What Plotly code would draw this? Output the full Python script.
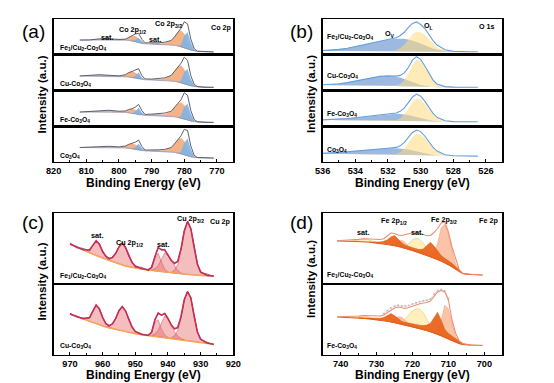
import plotly.graph_objects as go

W, H = 554, 383
FONT = "Liberation Sans, Arial, sans-serif"

# ---------------- (a) Co 2p ----------------
Ea = [812, 809, 806, 803, 800, 798, 797, 796, 795, 794, 793, 792, 790, 788, 786, 784, 783, 782, 781, 780, 779, 778, 777, 776, 774, 771]
a1_base = [14.7, 14.8, 14.9, 14.9, 14.8, 14.6, 14.3, 13.8, 13.0, 12.0, 11.2, 10.8, 10.6, 10.4, 10.2, 9.8, 9.4, 8.8, 8.0, 7.0, 5.8, 4.6, 3.8, 3.3, 3.0, 2.8]
a1_orange = [0, 0, 0, 0, 0, 1.0, 3.0, 5.3, 5.8, 4.5, 2.3, 0.8, 0, 0.3, 1.5, 4.5, 8.5, 14.0, 16.5, 14.0, 8.0, 3.0, 1.0, 0.3, 0, 0]
a1_blue = [0, 0, 0, 0, 0, 0, 0, 0, 2.0, 5.0, 2.0, 0.3, 0, 0, 0, 0, 0, 0, 2.0, 12.0, 17.0, 8.0, 1.5, 0, 0, 0]
a1_purple = [0, 0, 1.0, 1.2, 0.5, 0, 0, 0, 0, 0, 0, 0, 1.0, 1.3, 0.8, 0, 0, 0, 0, 0, 0, 0, 0, 0, 0, 0]
a1_env = [14.7, 14.8, 15.9, 16.1, 15.3, 15.6, 17.3, 19.1, 20.8, 21.5, 15.5, 11.9, 11.6, 12.0, 12.5, 14.3, 17.9, 22.8, 26.5, 33.0, 30.8, 15.6, 6.3, 3.6, 3.0, 2.8]

a2_base = [14.5, 14.4, 14.3, 14.2, 14.0, 13.8, 13.5, 13.0, 12.3, 11.6, 11.0, 10.7, 10.4, 10.2, 10.0, 9.6, 9.2, 8.6, 7.8, 6.8, 5.6, 4.6, 4.0, 3.6, 3.3, 3.2]
a2_orange = [0, 0, 0, 0, 0.3, 2.0, 4.5, 6.0, 5.5, 3.8, 1.8, 0.6, 0.2, 0.5, 2.0, 5.5, 10.0, 15.5, 17.5, 14.5, 8.5, 3.2, 1.0, 0.3, 0, 0]
a2_blue = [0, 0, 0, 0, 0, 0, 0, 0, 2.5, 6.5, 2.0, 0.3, 0, 0, 0, 0, 0, 0, 2.0, 12.0, 16.0, 7.0, 1.2, 0, 0, 0]
a2_purple = [0, 0.5, 1.5, 1.0, 0.4, 0, 0, 0, 0, 0, 0, 0, 0.8, 1.2, 0.6, 0, 0, 0, 0, 0, 0, 0, 0, 0, 0, 0]
a2_env = [14.5, 14.9, 15.8, 15.2, 14.7, 15.8, 18.0, 19.0, 20.3, 21.9, 14.8, 11.6, 11.4, 11.9, 12.6, 15.1, 19.2, 24.1, 27.3, 33.3, 30.1, 14.8, 6.2, 3.9, 3.3, 3.2]

a3_base = [14.2, 14.3, 14.3, 14.2, 14.0, 13.8, 13.5, 13.0, 12.3, 11.6, 11.1, 10.8, 10.6, 10.4, 10.2, 9.8, 9.4, 8.8, 8.0, 7.0, 5.9, 5.0, 4.5, 4.2, 4.0, 3.9]
a3_orange = [0, 0, 0, 0, 0.2, 1.5, 3.3, 4.5, 4.3, 3.2, 1.6, 0.5, 0, 0.4, 1.8, 5.0, 9.0, 14.0, 16.0, 14.0, 8.5, 3.2, 1.0, 0.3, 0, 0]
a3_blue = [0, 0, 0, 0, 0, 0, 0, 0, 2.5, 7.0, 3.0, 0.5, 0, 0, 0, 0, 0, 0, 2.5, 12.5, 16.5, 7.5, 1.3, 0, 0, 0]
a3_purple = [0, 0.5, 1.6, 1.8, 0.8, 0, 0, 0, 0, 0, 0, 0, 1.5, 2.0, 1.2, 0.2, 0, 0, 0, 0, 0, 0, 0, 0, 0, 0]
a3_env = [14.2, 14.8, 15.9, 16.0, 15.0, 15.3, 16.8, 17.5, 19.1, 21.8, 15.7, 11.8, 12.1, 12.8, 13.2, 15.0, 18.4, 22.8, 26.5, 33.5, 30.9, 15.7, 6.8, 4.5, 4.0, 3.9]

a4_base = [14.5, 14.5, 14.5, 14.4, 14.2, 14.0, 13.7, 13.2, 12.5, 11.8, 11.3, 11.0, 10.8, 10.6, 10.4, 10.0, 9.6, 9.0, 8.2, 7.2, 6.0, 5.0, 4.5, 4.2, 4.0, 3.9]
a4_orange = [0, 0, 0, 0, 0.3, 2.0, 4.0, 5.3, 5.0, 3.6, 1.7, 0.5, 0, 0.3, 1.5, 4.5, 8.5, 13.5, 15.8, 13.5, 8.0, 3.0, 1.0, 0.3, 0, 0]
a4_blue = [0, 0, 0, 0, 0, 0, 0, 0, 2.3, 6.5, 2.6, 0.4, 0, 0, 0, 0, 0, 0, 2.3, 12.0, 17.5, 8.0, 1.3, 0, 0, 0]
a4_purple = [0, 0.4, 1.2, 1.3, 0.6, 0, 0, 0, 0, 0, 0, 0, 1.0, 1.3, 0.7, 0, 0, 0, 0, 0, 0, 0, 0, 0, 0, 0]
a4_env = [14.5, 14.9, 15.7, 15.7, 15.1, 16.0, 17.7, 18.5, 19.8, 21.9, 15.6, 11.9, 11.8, 12.2, 12.6, 14.5, 18.1, 22.5, 26.3, 32.7, 31.5, 16.0, 6.8, 4.5, 4.0, 3.9]

# ---------------- (b) O 1s ----------------
Eb = [536, 535.5, 535, 534.5, 534, 533.5, 533, 532.5, 532, 531.5, 531.25, 531, 530.75, 530.5, 530.25, 530, 529.75, 529.5, 529.25, 529, 528.5, 528, 527.5, 527, 526.5]
b1_base = [3.8, 3.8, 3.8, 3.75, 3.7, 3.65, 3.6, 3.55, 3.5, 3.45, 3.42, 3.4, 3.35, 3.3, 3.25, 3.2, 3.15, 3.1, 3.05, 3.0, 3.0, 3.0, 3.0, 3.0, 3.0]
b1_ov = [0.3, 0.8, 1.6, 2.8, 4.3, 6.2, 8.2, 10.2, 11.7, 12.6, 12.8, 12.6, 12.0, 11.0, 9.6, 8.0, 6.3, 4.7, 3.3, 2.2, 0.8, 0.2, 0, 0, 0]
b1_ol = [0, 0, 0, 0, 0, 0, 0, 0, 0, 1.0, 3.0, 6.5, 12.0, 17.0, 20.0, 19.0, 17.0, 12.5, 8.0, 4.5, 1.2, 0.2, 0, 0, 0]
b1_env = [4.1, 4.6, 5.4, 6.55, 8.0, 9.85, 11.8, 13.75, 15.2, 17.05, 19.2, 22.5, 27.35, 31.3, 32.85, 30.2, 26.45, 20.3, 14.35, 9.7, 5.0, 3.4, 3.0, 3.0, 3.0]

b2_base = [5.4, 5.3, 5.2, 5.1, 5.0, 4.9, 4.8, 4.7, 4.6, 4.4, 4.3, 4.2, 4.1, 3.95, 3.8, 3.7, 3.6, 3.5, 3.4, 3.35, 3.3, 3.25, 3.2, 3.2, 3.2]
b2_ov = [0.3, 0.8, 1.6, 2.8, 4.3, 6.2, 8.0, 9.4, 10.0, 9.4, 8.6, 7.4, 5.9, 4.4, 3.0, 1.9, 1.1, 0.5, 0.2, 0, 0, 0, 0, 0, 0]
b2_ol = [0, 0, 0, 0, 0, 0, 0, 0, 0, 0.6, 2.2, 6.0, 13.0, 22.0, 27.0, 25.5, 20.0, 13.0, 7.0, 3.2, 0.6, 0.1, 0, 0, 0]
b2_env = [5.7, 6.1, 6.8, 7.9, 9.3, 11.1, 12.8, 14.1, 14.6, 14.4, 15.1, 17.6, 23.0, 30.35, 33.8, 31.1, 24.7, 17.0, 10.6, 6.55, 3.9, 3.35, 3.2, 3.2, 3.2]

b3_base = [6.2, 6.15, 6.1, 6.0, 5.9, 5.8, 5.7, 5.6, 5.5, 5.4, 5.3, 5.2, 5.1, 5.0, 4.9, 4.8, 4.7, 4.65, 4.6, 4.55, 4.5, 4.5, 4.5, 4.5, 4.5]
b3_ov = [0.2, 0.5, 1.0, 1.7, 2.6, 3.6, 4.7, 5.7, 6.5, 7.0, 7.0, 6.7, 6.1, 5.3, 4.3, 3.3, 2.4, 1.6, 1.0, 0.6, 0.2, 0, 0, 0, 0]
b3_ol = [0, 0, 0, 0, 0, 0, 0, 0, 0, 0.8, 2.6, 6.5, 12.5, 19.0, 23.0, 22.0, 18.0, 12.5, 7.5, 3.8, 0.8, 0.1, 0, 0, 0]
b3_env = [6.4, 6.65, 7.1, 7.7, 8.5, 9.4, 10.4, 11.3, 12.0, 13.2, 14.9, 18.4, 23.7, 29.3, 32.2, 30.1, 25.1, 18.75, 13.1, 8.95, 5.5, 4.6, 4.5, 4.5, 4.5]

b4_base = [8.3, 8.2, 8.1, 8.0, 7.9, 7.8, 7.7, 7.6, 7.5, 7.3, 7.2, 7.1, 7.0, 6.9, 6.75, 6.6, 6.5, 6.4, 6.3, 6.2, 6.1, 6.0, 6.0, 5.9, 5.9]
b4_ov = [0.3, 0.7, 1.3, 2.1, 3.0, 4.0, 5.0, 5.8, 6.3, 6.5, 6.4, 6.0, 5.4, 4.6, 3.7, 2.8, 2.0, 1.3, 0.8, 0.5, 0.1, 0, 0, 0, 0]
b4_ol = [0, 0, 0, 0, 0, 0, 0, 0, 0, 0.8, 2.6, 6.5, 12.0, 18.0, 21.5, 21.0, 17.5, 12.5, 7.8, 4.2, 1.0, 0.2, 0, 0, 0]
b4_env = [8.6, 8.9, 9.4, 10.1, 10.9, 11.8, 12.7, 13.4, 13.8, 14.6, 16.2, 19.6, 24.4, 29.5, 31.95, 30.4, 26.0, 20.2, 14.9, 10.9, 7.2, 6.2, 6.0, 5.9, 5.9]

# ---------------- (c) Cu 2p ----------------
Ec = [970, 968, 966, 964, 963, 962, 961, 960, 959, 958, 957, 956, 955, 954, 953, 952, 951, 950, 948, 946, 945, 944, 943, 942, 941, 940, 939, 938, 937, 936, 935, 934, 933, 932, 931, 930, 928, 926]
c1_base = [40, 37, 34, 31, 29.8, 28.5, 27.2, 26, 24.8, 23.6, 22.4, 21.2, 20, 19, 18, 17.2, 16.5, 16, 15, 14, 13.6, 13.2, 12.8, 12.4, 12, 11.6, 11.2, 10.8, 10.5, 10.2, 9.9, 9.6, 9.3, 9.0, 8.8, 8.6, 8.3, 8.0]
c1_env = [40, 37, 34.2, 34, 38.3, 43.2, 39.7, 32.5, 27.6, 25.5, 26.5, 30.7, 37, 41, 36.5, 28.2, 21.5, 18, 15.2, 14.3, 16.6, 27.2, 36.3, 34.4, 34, 29.1, 23.5, 20.8, 22.5, 35.2, 53.1, 62.6, 55.3, 37, 19.8, 12.1, 8.6, 8.0]
c1_raw = [41.2, 36.2, 35.7, 33.0, 38.8, 42.8, 40.5, 31.9, 28.5, 24.5, 27.3, 30.2, 37.6, 40.5, 37.2, 27.4, 22.5, 16.8, 16.7, 13.1, 17.6, 26.4, 36.9, 33.7, 34.8, 28.2, 24.3, 20.0, 23.1, 34.7, 53.6, 62.3, 55.8, 36.4, 20.8, 11.3, 10.0, 7.4]
c1_sat1_e = [966, 964, 963, 962, 961, 960, 959, 958, 957]
c1_sat1_h = [0.2, 3.0, 8.5, 14.7, 12.5, 6.5, 2.5, 0.7, 0.1]
c1_p12_e = [959, 958, 957, 956, 955, 954, 953, 952, 951, 950, 948]
c1_p12_h = [0.3, 1.2, 4.0, 9.5, 17.0, 22.0, 18.5, 11.0, 5.0, 2.0, 0.2]
c1_sat2_e = [946, 945, 944, 943, 942, 941, 940]
c1_sat2_h = [0.3, 2.5, 12.0, 18.0, 10.0, 3.0, 0.5]
c1_sat3_e = [945, 944, 943, 942, 941, 940, 939, 938, 937, 936, 935]
c1_sat3_h = [0.5, 2.0, 5.5, 12.0, 19.0, 17.0, 12.0, 7.0, 3.0, 1.0, 0.2]
c1_p32_e = [939, 938, 937, 936, 935, 934, 933, 932, 931, 930, 928]
c1_p32_h = [0.3, 3.0, 9.0, 24.0, 43.0, 53.0, 46.0, 28.0, 11.0, 3.5, 0.3]

c2_base = [41, 38.5, 36, 33.5, 32.3, 31, 30, 29, 28, 27.2, 26.4, 25.6, 24.8, 24, 23.2, 22.5, 21.9, 21.3, 20.3, 19.5, 19.1, 18.7, 18.3, 17.9, 17.5, 17.1, 16.7, 16.3, 15.9, 15.5, 15.0, 14.5, 14.0, 13.5, 13.0, 12.6, 11.6, 10.7]
c2_env = [41, 38.5, 36.3, 37.5, 43.8, 50, 46, 37.5, 31.3, 29.3, 31.0, 36.6, 44.3, 48.5, 44.2, 35.5, 27.9, 23.6, 20.5, 19.8, 22.6, 35.2, 41.8, 39.9, 41.5, 36.5, 30.0, 26.3, 27.4, 38.5, 55.2, 63.5, 57.0, 39.5, 23.0, 15.9, 11.9, 10.7]
c2_raw = [41.8, 38.0, 37.0, 36.8, 44.3, 49.6, 46.5, 37.0, 31.8, 28.7, 31.5, 36.2, 44.8, 48.2, 44.6, 35.0, 28.5, 23.0, 21.2, 19.2, 23.2, 34.7, 42.3, 39.4, 42.0, 36.0, 30.6, 25.8, 27.9, 38.0, 55.6, 63.3, 57.4, 39.0, 23.5, 15.4, 12.5, 10.2]
c2_sat1_e = [966, 964, 963, 962, 961, 960, 959, 958, 957]
c2_sat1_h = [0.3, 4.0, 11.5, 19.0, 16.0, 8.5, 3.0, 0.8, 0.1]
c2_p12_e = [959, 958, 957, 956, 955, 954, 953, 952, 951, 950, 948]
c2_p12_h = [0.3, 1.3, 4.5, 11.0, 19.5, 24.5, 21.0, 13.0, 6.0, 2.3, 0.2]
c2_sat2_e = [946, 945, 944, 943, 942, 941, 940]
c2_sat2_h = [0.3, 3.0, 14.0, 17.0, 8.0, 2.5, 0.4]
c2_sat3_e = [945, 944, 943, 942, 941, 940, 939, 938, 937, 936, 935]
c2_sat3_h = [0.5, 2.5, 6.5, 14.0, 21.5, 19.0, 13.0, 7.0, 3.0, 1.0, 0.2]
c2_p32_e = [939, 938, 937, 936, 935, 934, 933, 932, 931, 930, 928]
c2_p32_h = [0.3, 3.0, 8.5, 22.0, 40.0, 49.0, 43.0, 26.0, 10.0, 3.3, 0.3]

# ---------------- (d) Fe 2p ----------------
Ed = [741, 739, 737, 735, 733.5, 732, 730, 729, 728, 727, 726, 725, 724, 723, 722, 721, 720, 719, 718, 717, 716, 715, 714, 713, 712, 711, 710, 709, 708, 707, 706, 704, 702, 700.5]
d1_base = [43.0, 42.9, 42.8, 42.6, 42.2, 41.8, 41.0, 40.6, 40.2, 39.7, 39.1, 38.4, 37.6, 36.7, 35.7, 34.6, 33.5, 32.3, 31.1, 29.9, 28.6, 27.3, 25.9, 24.5, 22.9, 21.2, 19.3, 17.2, 15.0, 12.5, 10.3, 9.5, 9.2, 9.0]
d1_env = [43.3, 43.5, 44.0, 44.6, 45.3, 45.0, 44.5, 44.5, 45.3, 48.5, 51.0, 50.5, 49.0, 48.5, 49.0, 50.2, 51.0, 51.2, 50.8, 49.5, 48.3, 48.6, 51.5, 55.5, 61.0, 62.3, 52.0, 37.0, 25.0, 14.5, 10.5, 9.5, 9.2, 9.0]
d1_sat1_e = [737, 735, 733.5, 732, 730, 729]
d1_sat1_h = [0.2, 1.2, 3.0, 2.2, 0.5, 0.1]
d1_sat2_e = [723, 722, 721, 720, 719, 718, 717, 716, 715, 714, 713]
d1_sat2_h = [0.8, 2.5, 6.0, 10.5, 13.5, 13.5, 11.0, 6.5, 3.0, 1.0, 0.2]
d1_lt12_e = [726, 725, 724, 723, 722, 721, 720, 719]
d1_lt12_h = [0.5, 2.0, 5.0, 7.0, 5.5, 2.5, 0.8, 0.2]
d1_lt32_e = [715, 714, 713, 712, 711, 710, 709, 708, 707, 706]
d1_lt32_h = [1.0, 5.0, 16.0, 33.0, 38.5, 30.0, 17.0, 5.5, 1.5, 0.3]
d1_dk_e = [732, 730, 729, 728, 727, 726, 725, 724, 723, 722, 721, 720, 719, 718, 717, 716, 715, 714, 713, 712, 711, 710, 709, 708, 707, 706, 704]
d1_dk_h = [0.3, 1.0, 1.5, 2.5, 4.5, 8.0, 10.0, 7.5, 4.5, 3.0, 2.8, 2.8, 3.0, 3.3, 5.0, 10.0, 14.5, 12.0, 8.0, 5.5, 4.5, 4.0, 3.5, 2.5, 1.5, 0.5, 0.0]

d2_base = [38.0, 37.8, 37.5, 37.0, 36.6, 36.1, 35.3, 34.9, 34.4, 33.8, 33.1, 32.4, 31.6, 30.8, 29.9, 29.0, 28.1, 27.2, 26.3, 25.4, 24.4, 23.3, 22.1, 20.8, 19.3, 17.7, 16.0, 14.3, 12.7, 11.4, 10.5, 9.8, 9.6, 9.5]
d2_env = [38.2, 38.3, 38.5, 39.0, 39.5, 39.2, 38.8, 39.0, 40.0, 42.5, 45.0, 47.0, 48.0, 47.0, 46.5, 47.5, 49.0, 50.3, 51.3, 52.0, 52.5, 54.0, 59.0, 63.0, 64.5, 63.0, 55.0, 35.0, 22.0, 14.0, 11.5, 10.0, 9.7, 9.6]
d2_raw_e = [728, 727, 726, 725, 724, 723, 722, 721, 720, 719, 718, 717, 716, 715, 714, 713, 712, 711, 710]
d2_raw = [41.5, 44.5, 47.0, 48.8, 49.8, 49.0, 48.8, 49.5, 51.0, 52.2, 53.2, 54.2, 54.8, 56.3, 60.8, 64.5, 65.5, 64.0, 56.5]
d2_sat1_e = [737, 735, 733.5, 732, 730]
d2_sat1_h = [0.2, 1.5, 2.5, 1.5, 0.3]
d2_sat2_e = [724, 723, 722, 721, 720, 719, 718, 717, 716, 715, 714, 713]
d2_sat2_h = [0.5, 2.5, 6.5, 11.5, 16.0, 19.0, 19.5, 17.0, 11.5, 5.5, 1.8, 0.3]
d2_lt12_e = [726, 725, 724, 723, 722, 721, 720]
d2_lt12_h = [0.8, 3.0, 6.5, 7.0, 4.5, 2.0, 0.6]
d2_lt32_e = [714, 713, 712, 711, 710, 709, 708, 707, 706]
d2_lt32_h = [0.5, 3.0, 15.0, 32.0, 30.0, 17.0, 6.0, 1.5, 0.3]
d2_dk_e = [735, 733.5, 732, 730, 729, 728, 727, 726, 725, 724, 723, 722, 721, 720, 719, 718, 717, 716, 715, 714, 713, 712, 711, 710, 709, 708, 707, 706, 704]
d2_dk_h = [0.3, 0.6, 0.8, 1.2, 1.8, 3.2, 6.0, 8.3, 7.0, 4.5, 3.0, 2.8, 2.8, 3.0, 3.2, 3.5, 4.0, 5.5, 8.5, 15.0, 22.0, 15.5, 8.0, 5.5, 4.5, 3.5, 2.2, 1.0, 0.2]

# ---------------- labels ----------------
a_samples = ["Fe<sub>1</sub>/Cu<sub>2</sub>-Co<sub>3</sub>O<sub>4</sub>", "Cu-Co<sub>3</sub>O<sub>4</sub>",
             "Fe-Co<sub>3</sub>O<sub>4</sub>", "Co<sub>3</sub>O<sub>4</sub>"]
c_samples = ["Fe<sub>1</sub>/Cu<sub>2</sub>-Co<sub>3</sub>O<sub>4</sub>", "Cu-Co<sub>3</sub>O<sub>4</sub>"]
d_samples = ["Fe<sub>1</sub>/Cu<sub>2</sub>-Co<sub>3</sub>O<sub>4</sub>", "Fe-Co<sub>3</sub>O<sub>4</sub>"]

# ---------------- layout helpers ----------------
fig = go.Figure()


def xp(p):
    return p / W


def yp(p):
    return 1 - p / H


AX_COUNT = [0]


def new_axes(xdom_px, ydom_px, xrange, yrange, bottom, dtick, minor):
    AX_COUNT[0] += 1
    n = AX_COUNT[0]
    xname = "xaxis" if n == 1 else "xaxis%d" % n
    yname = "yaxis" if n == 1 else "yaxis%d" % n
    xa = dict(domain=[xp(xdom_px[0]), xp(xdom_px[1])], range=xrange, anchor="y" if n == 1 else "y%d" % n,
              showline=True, mirror=True, linecolor="black", linewidth=1.4, showgrid=False, zeroline=False,
              fixedrange=True)
    if bottom:
        xa.update(ticks="inside", ticklen=3, tickwidth=1, tickcolor="black", dtick=dtick, tick0=0,
                  showticklabels=True,
                  tickfont=dict(family=FONT, size=9.2, color="black", weight="bold"),
                  minor=dict(ticks="inside", ticklen=2, dtick=minor, tick0=0, tickcolor="black"))
    else:
        xa.update(ticks="", showticklabels=False)
    ya = dict(domain=[yp(ydom_px[1]), yp(ydom_px[0])], range=yrange, anchor="x" if n == 1 else "x%d" % n,
              showline=True, mirror=True, linecolor="black", linewidth=1.4, showgrid=False, zeroline=False,
              ticks="", showticklabels=False, fixedrange=True)
    fig.update_layout(**{xname: xa, yname: ya})
    return ("x" if n == 1 else "x%d" % n), ("y" if n == 1 else "y%d" % n)


def comp(ax, E, h, base_E, base, fillcolor, linecolor=None, lw=0.0):
    bd = dict(zip(base_E, base))
    upper = [bd[e] + v for e, v in zip(E, h)]
    lower = [bd[e] for e in E]
    fig.add_trace(go.Scatter(x=list(E) + list(E)[::-1], y=upper + lower[::-1], mode="lines", fill="toself",
                             fillcolor=fillcolor, line=dict(color=linecolor or "rgba(0,0,0,0)", width=lw),
                             xaxis=ax[0], yaxis=ax[1], hoverinfo="skip", showlegend=False))


def line(ax, E, y, color, width, mode="lines", msize=2):
    fig.add_trace(go.Scatter(x=E, y=y, mode=mode, line=dict(color=color, width=width),
                             marker=dict(size=msize, color=color),
                             xaxis=ax[0], yaxis=ax[1], hoverinfo="skip", showlegend=False))


annotations = []


def text(px, py, s, size=7.2, bold=True, xanchor="center", angle=0):
    annotations.append(dict(x=xp(px), y=yp(py), xref="paper", yref="paper", text=s, showarrow=False,
                            xanchor=xanchor, yanchor="middle", textangle=angle,
                            font=dict(family=FONT, size=size, color="black", weight="bold" if bold else "normal")))


# ---------------- panel geometry (pixels) ----------------
LX = [47, 232]
RX = [324, 509]
TOP_ROWS = [19, 54.75, 90.5, 126.25, 162]
BOT_ROWS = [213, 284, 355]
TOP_H = TOP_ROWS[1] - TOP_ROWS[0]
BOT_H = BOT_ROWS[1] - BOT_ROWS[0]
LABEL = 6.8

# ---- (a)
a_sets = [(a1_base, a1_orange, a1_blue, a1_purple, a1_env),
          (a2_base, a2_orange, a2_blue, a2_purple, a2_env),
          (a3_base, a3_orange, a3_blue, a3_purple, a3_env),
          (a4_base, a4_orange, a4_blue, a4_purple, a4_env)]
for i, (bs, org, blu, pur, env) in enumerate(a_sets):
    ax = new_axes(LX, [TOP_ROWS[i], TOP_ROWS[i + 1]], [820, 765], [0, TOP_H], i == 3, 10, 5)
    comp(ax, Ea, pur, Ea, bs, "rgba(176,164,214,0.75)")
    comp(ax, Ea, org, Ea, bs, "rgb(244,178,134)")
    comp(ax, Ea, blu, Ea, bs, "rgba(128,178,230,0.9)")
    line(ax, Ea, bs, "rgba(120,120,150,0.8)", 0.6)
    line(ax, Ea, env, "rgb(80,80,90)", 0.9)
    text(51, TOP_ROWS[i + 1] - 6.5, a_samples[i], size=LABEL, xanchor="left")

# ---- (b)
b_sets = [(b1_base, b1_ov, b1_ol, b1_env), (b2_base, b2_ov, b2_ol, b2_env),
          (b3_base, b3_ov, b3_ol, b3_env), (b4_base, b4_ov, b4_ol, b4_env)]
b_label_y = [37.5, 76.5, 113.5, 150]
for i, (bs, ov, ol, env) in enumerate(b_sets):
    ax = new_axes(RX, [TOP_ROWS[i], TOP_ROWS[i + 1]], [536, 525], [0, TOP_H], i == 3, 2, 1)
    comp(ax, Eb, ov, Eb, bs, "rgba(78,128,200,0.55)")
    comp(ax, Eb, ol, Eb, bs, "rgba(255,218,125,0.55)")
    line(ax, Eb, env, "rgb(100,160,220)", 1.1)
    text(326, b_label_y[i], a_samples[i], size=LABEL, xanchor="left")

# ---- (c)
c_sets = [(c1_base, c1_env, c1_raw, [(c1_sat1_e, c1_sat1_h), (c1_p12_e, c1_p12_h), (c1_sat2_e, c1_sat2_h),
                                     (c1_sat3_e, c1_sat3_h), (c1_p32_e, c1_p32_h)]),
          (c2_base, c2_env, c2_raw, [(c2_sat1_e, c2_sat1_h), (c2_p12_e, c2_p12_h), (c2_sat2_e, c2_sat2_h),
                                     (c2_sat3_e, c2_sat3_h), (c2_p32_e, c2_p32_h)])]
c_label_y = [275.8, 345.5]
for i, (bs, env, raw, comps) in enumerate(c_sets):
    ax = new_axes(LX, [BOT_ROWS[i], BOT_ROWS[i + 1]], [975, 920], [0, BOT_H], i == 1, 10, 5)
    for e, h in comps:
        comp(ax, e, h, Ec, bs, "rgba(232,100,100,0.42)", "rgba(200,50,80,0.7)", 0.6)
    line(ax, Ec, bs, "rgb(245,165,90)", 1.5)
    line(ax, Ec, raw, "rgb(70,70,70)", 0.7)
    line(ax, Ec, env, "rgb(200,45,85)", 1.6)
    text(51, c_label_y[i], c_samples[i], size=LABEL, xanchor="left")

# ---- (d)
d_sets = [(d1_base, d1_env, None,
           [(d1_sat1_e, d1_sat1_h), (d1_sat2_e, d1_sat2_h)],
           [(d1_lt12_e, d1_lt12_h), (d1_lt32_e, d1_lt32_h)],
           (d1_dk_e, d1_dk_h)),
          (d2_base, d2_env, (d2_raw_e, d2_raw),
           [(d2_sat1_e, d2_sat1_h), (d2_sat2_e, d2_sat2_h)],
           [(d2_lt12_e, d2_lt12_h), (d2_lt32_e, d2_lt32_h)],
           (d2_dk_e, d2_dk_h))]
d_label_y = [275, 345.5]
for i, (bs, env, raw, sats, lts, dk) in enumerate(d_sets):
    ax = new_axes(RX, [BOT_ROWS[i], BOT_ROWS[i + 1]], [745, 695], [0, BOT_H], i == 1, 10, 5)
    for e, h in sats:
        comp(ax, e, h, Ed, bs, "rgb(255,240,190)", "rgb(242,210,130)", 0.8)
    for e, h in lts:
        comp(ax, e, h, Ed, bs, "rgb(251,196,166)", "rgb(245,160,125)", 0.6)
    comp(ax, dk[0], dk[1], Ed, bs, "rgba(232,100,30,0.95)", "rgb(225,95,30)", 0.5)
    line(ax, Ed, bs, "rgb(225,95,30)", 1.0)
    if raw is not None:
        line(ax, raw[0], raw[1], "rgb(190,190,190)", 0.5, mode="lines+markers", msize=2)
    line(ax, Ed, env, "rgb(242,140,115)", 1.1)
    text(326, d_label_y[i], d_samples[i], size=LABEL, xanchor="left")

# ---------------- text ----------------
# panel letters
text(26, 32, "(a)", size=19, bold=False)
text(302, 32, "(b)", size=19, bold=False)
text(26, 222, "(c)", size=19, bold=False)
text(302, 222, "(d)", size=19, bold=False)

# (a) peak labels
text(102, 37, "sat.")
text(128.5, 30, "Co 2p<sub>1/2</sub>")
text(151, 40, "sat.")
text(165, 24, "Co 2p<sub>3/2</sub>")
text(219.5, 27, "Co 2p")
# (b)
text(393, 33.5, "O<sub>V</sub>")
text(432.5, 26.5, "O<sub>L</sub>")
text(493.5, 26.5, "O 1s")
# (c)
text(92, 235.5, "sat.")
text(125, 242.5, "Cu 2p<sub>1/2</sub>")
text(160, 244, "sat.")
text(187.5, 219, "Cu 2p<sub>3/2</sub>")
text(219, 221, "Cu 2p")
# (d)
text(366, 232.5, "sat.")
text(397.5, 221, "Fe 2p<sub>1/2</sub>")
text(421, 232.5, "sat.")
text(449, 219.5, "Fe 2p<sub>3/2</sub>")
text(495, 220.5, "Fe 2p")

# axis titles
for cx, cy in [(139.5, 183), (416.5, 183), (139.5, 375), (416.5, 375)]:
    text(cx, cy, "Binding Energy (eV)", size=12)
for cx, cy in [(35.5, 94), (312, 94), (35.5, 281), (312, 279)]:
    text(cx, cy, "Intensity (a.u.)", size=11.5, angle=-90)

fig.update_layout(width=W, height=H, autosize=False, margin=dict(l=0, r=0, t=0, b=0),
                  paper_bgcolor="white", plot_bgcolor="white", showlegend=False,
                  annotations=annotations, font=dict(family=FONT, color="black"))

fig.write_html("out.html", config={"displayModeBar": False, "staticPlot": True},
               post_script="document.body.style.margin='0px';document.body.style.padding='0px';"
                           "document.body.style.overflow='hidden';")
